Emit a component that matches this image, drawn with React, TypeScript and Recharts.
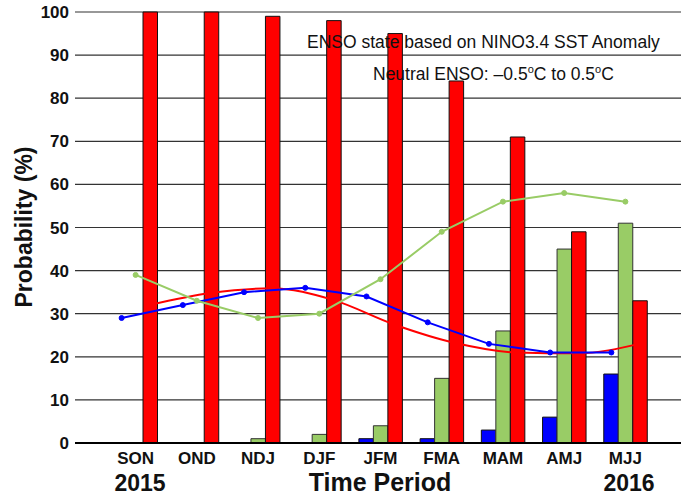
import { Bar, CartesianGrid, ComposedChart, Line, XAxis, YAxis } from "recharts";

const periods = ["SON", "OND", "NDJ", "DJF", "JFM", "FMA", "MAM", "AMJ", "MJJ"];
const laNina = [0, 0, 0, 0, 1, 1, 3, 6, 16];
const neutral = [0, 0, 1, 2, 4, 15, 26, 45, 51];
const elNino = [100, 100, 99, 98, 95, 84, 71, 49, 33];
// climatological probabilities (lines)
const climLaNina = [29, 32, 35, 36, 34, 28, 23, 21, 21];
const climNeutral = [39, 33, 29, 30, 38, 49, 56, 58, 56];
const climElNino = [32, 34.8, 35.9, 33.2, 27.5, 23.2, 21, 20.8, 23];
const yTicks = [0, 10, 20, 30, 40, 50, 60, 70, 80, 90, 100];

const data = periods.map((p, i) => ({
  period: p,
  laNina: laNina[i],
  neutral: neutral[i],
  elNino: elNino[i],
  climLaNina: climLaNina[i],
  climNeutral: climNeutral[i],
  climElNino: climElNino[i],
}));

const FONT = '"Liberation Sans", Arial, Helvetica, sans-serif';
const BLUE = "#0000ff";
const GREEN = "#99cc66";
const RED = "#ff0000";

export default function App() {
  return (
    <div style={{ position: "fixed", left: 0, top: 0, width: 681, height: 495, overflow: "hidden", background: "#fff" }}>
      <ComposedChart
        width={700}
        height={495}
        data={data}
        margin={{ top: 12, right: 0, bottom: 0, left: 0 }}
        barGap={0}
        barSize={14.5}
        style={{ fontFamily: FONT }}
      >
        <CartesianGrid horizontal vertical={false} stroke="#333" strokeWidth={1.2} />
        <XAxis
          xAxisId="main"
          dataKey="period"
          height={52}
          padding={{ left: 30, right: 44 }}
          tickLine={false}
          tickSize={0}
          tickMargin={9}
          axisLine={{ stroke: "#000", strokeWidth: 2 }}
          tick={{ fontSize: 17, fontWeight: "bold", fill: "#111" }}
          interval={0}
        />
        <XAxis xAxisId="blue" dataKey="period" hide height={0} orientation="top" padding={{ left: 16, right: 58 }} />
        <XAxis xAxisId="red" dataKey="period" hide height={0} orientation="top" padding={{ left: 43.6, right: 30.4 }} />
        <YAxis
          width={75}
          domain={[0, 100]}
          ticks={yTicks}
          interval={0}
          axisLine={false}
          tickLine={false}
          tickSize={0}
          tickMargin={6}
          tick={{ fontSize: 17, fontWeight: "bold", fill: "#111" }}
        />
        <Bar xAxisId="main" dataKey="laNina" fill={BLUE} stroke="#111" strokeWidth={1} isAnimationActive={false} />
        <Bar xAxisId="main" dataKey="neutral" fill={GREEN} stroke="#333" strokeWidth={1} isAnimationActive={false} />
        <Bar xAxisId="main" dataKey="elNino" fill={RED} stroke="#111" strokeWidth={1} isAnimationActive={false} />
        <Line
          xAxisId="red"
          type="monotone"
          dataKey="climElNino"
          stroke={RED}
          strokeWidth={2}
          dot={false}
          isAnimationActive={false}
        />
        <Line
          xAxisId="blue"
          type="linear"
          dataKey="climLaNina"
          stroke={BLUE}
          strokeWidth={2}
          dot={{ r: 2.5, fill: BLUE, stroke: BLUE, strokeWidth: 1 }}
          isAnimationActive={false}
        />
        <Line
          xAxisId="main"
          type="linear"
          dataKey="climNeutral"
          stroke={GREEN}
          strokeWidth={2}
          dot={{ r: 2.5, fill: GREEN, stroke: GREEN, strokeWidth: 1 }}
          isAnimationActive={false}
        />
      </ComposedChart>
      <svg
        width={681}
        height={495}
        style={{ position: "absolute", left: 0, top: 0, pointerEvents: "none", fontFamily: FONT }}
      >
        <text x={307} y={48} fontSize={17.5} fill="#111">
          ENSO state based on NINO3.4 SST Anomaly
        </text>
        <text x={373} y={80} fontSize={17.5} fill="#111">
          Neutral ENSO: –0.5
          <tspan dy={-7} fontSize={11}>o</tspan>
          <tspan dy={7}>C to 0.5</tspan>
          <tspan dy={-7} fontSize={11}>o</tspan>
          <tspan dy={7}>C</tspan>
        </text>
        <text
          x={32}
          y={227}
          fontSize={23}
          fontWeight="bold"
          textAnchor="middle"
          fill="#111"
          transform="rotate(-90 32 227)"
        >
          Probability (%)
        </text>
        <text x={140} y={490.5} fontSize={23} fontWeight="bold" textAnchor="middle" fill="#111">
          2015
        </text>
        <text x={380} y={491} fontSize={25} fontWeight="bold" textAnchor="middle" fill="#111">
          Time Period
        </text>
        <text x={629} y={490.5} fontSize={23} fontWeight="bold" textAnchor="middle" fill="#111">
          2016
        </text>
      </svg>
    </div>
  );
}
